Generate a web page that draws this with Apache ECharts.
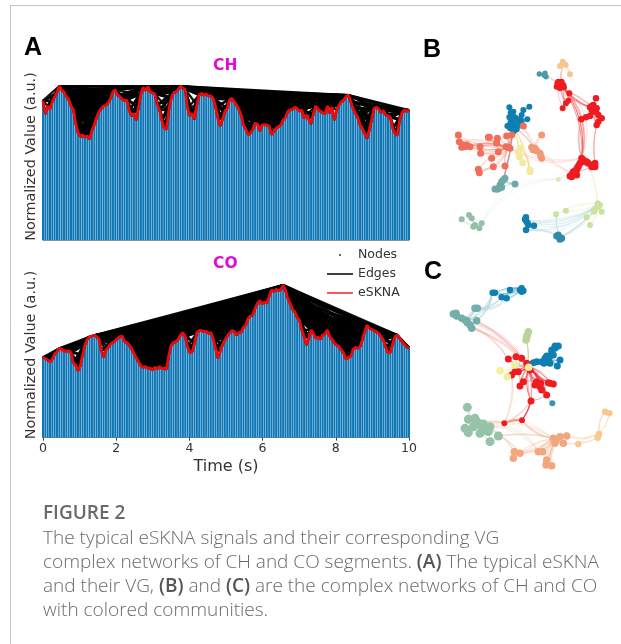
<!DOCTYPE html>
<html><head><meta charset="utf-8">
<style>html,body{margin:0;padding:0;background:#fff}#c{width:621px;height:644px;filter:blur(0.45px)}</style>
<script src="https://cdn.jsdelivr.net/npm/echarts@6/dist/echarts.min.js"></script>
</head><body><div id="c"></div>
<script>
// Signal samples (a.u., height)
const chValues=[418,378,402,392,415,430,442,462,450,444,430,422,402,392,350,322,310,315,308,312,302,328,345,368,385,394,402,404,412,425,445,450,435,430,422,418,420,388,372,380,360,398,438,458,448,460,444,442,438,405,390,358,335,332,390,425,442,444,452,462,455,452,395,372,380,362,405,435,440,434,438,432,432,425,400,365,342,362,385,395,420,425,415,405,392,375,345,332,316,320,332,350,348,327,345,346,345,342,316,325,335,340,345,360,368,385,390,392,398,395,386,390,365,375,362,348,378,402,392,386,382,378,402,380,398,360,390,405,415,420,430,435,415,395,380,368,345,335,318,305,330,362,395,398,394,382,388,375,372,368,335,320,314,360,382,390,385,390];
const coValues=[241,238,233,227,235,251,258,268,265,261,259,261,255,225,218,201,215,248,278,295,303,305,307,303,297,263,241,263,271,281,285,291,298,303,305,288,285,278,268,253,241,228,215,211,213,208,209,203,211,207,213,207,209,205,248,278,285,288,295,308,315,303,273,255,258,283,315,321,321,318,319,313,315,298,268,238,258,278,293,303,313,321,319,308,315,315,331,338,358,365,368,388,403,411,401,407,403,423,443,438,445,441,443,458,443,418,403,385,378,361,353,323,303,278,298,323,313,298,301,295,308,311,323,303,295,283,278,273,263,253,235,241,243,265,271,268,273,293,318,338,328,325,321,318,313,303,293,271,255,255,281,303,308,298,288,281,271,271];
const chMax=465, coMax=460;
const durationSeconds=10;
const legendNames=['Nodes','Edges','eSKNA'];
const yLabel='Normalized Value (a.u.)';
const xLabel='Time (s)';
const panelLetters=['A','B','C'];
const segmentTitles=['CH','CO'];
const captionHead='FIGURE 2';
const captionLines=['The typical eSKNA signals and their corresponding VG','complex networks of CH and CO segments. {b|(A)} The typical eSKNA','and their VG, {b|(B)} and {b|(C)} are the complex networks of CH and CO','with colored communities.'];

// Network B: communities (first node = hub), layout units
const bBlue=[[280,290],[268,232],[280,245],[268,262],[272,275],[262,288],[283,285],[290,298],[280,305],[295,268],[305,255],[328,230],[310,240],[322,268],[305,272],[290,280],[275,255],[285,262],[270,295],[278,275],[290,290],[285,300],[275,268],[268,285],[295,285],[272,248],[278,260],[282,295],[274,282]];
const bTomato=[[265,352],[115,315],[118,335],[128,345],[125,352],[140,345],[150,350],[182,370],[180,350],[208,322],[232,325],[230,340],[260,318],[275,315],[258,350],[215,385],[235,365],[220,410],[175,418],[178,428],[255,408],[310,288],[135,350],[205,322],[270,355]];
const bOrange=[[345,355],[365,315],[340,360],[360,370],[365,385],[350,362],[335,352],[362,378]];
const bYellow=[[300,355],[298,380],[308,398],[330,425],[295,365],[330,420]];
const bTeal=[[250,450],[255,445],[245,455],[240,465],[232,478],[245,472],[285,462],[238,475],[225,477]];
const bRed1=[[422,162],[415,155],[430,165],[420,175],[448,190],[445,212],[438,220],[428,235],[412,160],[425,155],[432,172],[418,168],[410,170]];
const bRed2=[[522,235],[528,205],[515,228],[525,245],[535,255],[510,258],[498,262],[484,268],[545,265],[535,275],[530,285],[515,240],[530,235],[520,225],[528,245],[510,232]];
const bRed3=[[485,385],[500,395],[475,410],[520,405],[525,400],[458,430],[450,438],[465,425],[470,435],[490,390],[505,400],[515,410],[460,425],[455,440],[470,420],[480,400],[525,410],[495,395]];
const bPeach=[[430,100],[420,108],[437,105],[450,133],[428,95]];
const bTeal2=[[375,130],[358,132],[378,140],[373,136]];
const bLime=[[533,520],[525,540],[545,545],[510,585],[500,562],[438,542],[408,553],[535,530],[540,525],[522,545]];
const bPale=[[415,448]];
const bSage=[[165,585],[125,568],[147,555],[155,565],[185,580],[178,595],[160,590]];
const bBlue2=[[318,572],[318,562],[325,585],[318,600],[342,587],[322,578],[315,568]];
const bTeal3=[[418,622],[425,625],[410,618],[420,628],[415,615]];

// Network C
const cBlue1=[[305,115],[310,122],[300,120],[218,128],[245,142],[260,145],[270,120],[305,125],[225,128]];
const cTeal=[[140,212],[100,192],[110,198],[135,210],[142,218],[170,212],[165,175],[155,235],[125,205],[150,225],[108,190],[172,175]];
const cSage1=[[320,262],[325,245],[318,270],[322,255]];
const cBlue2=[[385,330],[415,288],[405,295],[395,310],[375,325],[350,335],[420,330],[412,348],[390,340],[380,318],[365,335],[400,315],[388,322],[378,332],[395,300],[372,340],[405,288],[340,338]];
const cRed=[[325,350],[265,327],[288,320],[305,325],[275,375],[295,365],[300,408],[310,395],[350,395],[360,410],[365,420],[390,400],[400,402],[380,435],[333,453],[330,360],[320,340],[355,405],[345,405],[362,400],[385,398],[285,365]];
const cRed2=[[253,520],[306,511]];
const cYellow=[[285,345],[240,362],[262,380],[326,352]];
const cTealDot=[[397,460]];
const cSage2=[[175,520],[142,472],[145,508],[135,535],[165,505],[185,530],[210,530],[205,545],[180,550],[235,558],[210,575],[145,548],[195,540],[170,515],[190,522],[160,530]];
const cOrange=[[400,565],[420,560],[440,558],[405,580],[430,580],[283,605],[280,625],[300,610],[355,605],[368,605],[380,630],[378,645],[395,647],[408,572]];
const cPeach=[[537,552],[555,485],[568,490],[533,563],[475,582]];

const netB=[[bBlue,'#0f7fb2',6,.4],[bTomato,'#ef6f5a',7,.35],[bOrange,'#f29a74',7,.4],[bYellow,'#f3e9a0',7,.7],[bTeal,'#6fa9a6',7,.6],[bRed1,'#ee1c20',6,.4],[bRed2,'#ee1c20',6.5,.4],[bRed3,'#ee1c20',7,.6],[bPeach,'#f6c68f',6,.5],[bTeal2,'#4c99a8',5.5,.5],[bLime,'#cfe09c',6,.3],[bPale,'#dfe8b5',5,.2],[bSage,'#93bfa6',6,.35],[bBlue2,'#0f7fb2',6.5,.35],[bTeal3,'#2f8aa5',7,.35]];
const bridgesB=[[5,0,7,0,'#ee1c20',.7,.22],[5,0,7,0,'#f6908a',.5,.3],[5,0,6,0,'#ee1c20',.6,-.2],[5,3,6,0,'#f48a86',.5,.1],[6,7,7,0,'#f48a86',.5,-.15],[6,10,7,4,'#f48a86',.5,-.1],[5,0,8,0,'#f6a080',.5,.1],[5,0,9,0,'#f0b0a8',.5,.1],[1,0,7,0,'#f6b0a0',.4,-.2],[1,21,7,5,'#f6b0a0',.4,-.2],[0,0,1,0,'#ef9a8a',.5,.1],[0,0,2,0,'#f0a080',.5,.1],[0,0,3,1,'#f4dc90',.7,.1],[0,0,3,3,'#f4dc90',.7,.1],[0,0,4,0,'#b48a80',.8,.05],[10,0,14,0,'#b5d8dd',.5,.2],[10,0,13,0,'#b5d8dd',.5,.3],[10,7,13,0,'#b5d8dd',.4,.15],[10,1,14,0,'#b5d8dd',.4,.1],[10,0,13,3,'#b5d8dd',.4,.25],[13,3,14,0,'#b5d8dd',.5,.2],[10,6,14,0,'#b5d8dd',.4,-.1],[11,0,12,4,'#e8f0e4',.6,-.3],[11,0,7,5,'#e8ead0',.5,.1],[10,0,7,1,'#f2ead0',.5,-.1]];
const netC=[[cBlue1,'#0f7fb2',6.5,.4],[cTeal,'#74aeaa',7.5,.5],[cSage1,'#b8d49a',7.5,.6],[cBlue2,'#0f7fb2',7,.45],[cRed,'#ee1c20',7,.6],[cRed2,'#ee1c20',6,.5],[cYellow,'#f4ef9c',7.5,.7],[cTealDot,'#3a94a8',6,.4],[cSage2,'#96c2a8',9,.4],[cOrange,'#f2a67e',7.5,.4],[cPeach,'#f6c98f',6.5,.4]];
const bridgesC=[[0,3,1,0,'#a8d0d8',.6,.25],[0,3,1,5,'#a8d0d8',.6,.2],[0,4,1,6,'#a8d0d8',.6,.25],[0,5,1,6,'#a8d0d8',.5,.3],[0,1,0,3,'#a8d0d8',.5,.15],[1,5,4,0,'#f0a8a0',.6,.12],[1,7,4,0,'#f0a8a0',.6,.15],[1,0,4,0,'#f0a8a0',.5,.2],[1,9,4,1,'#f0a8a0',.5,.15],[2,0,4,0,'#c8c890',.6,.05],[3,5,4,0,'#3a8ab0',.7,0],[4,0,7,0,'#b8d0d8',.5,-.1],[4,14,5,0,'#f6b0a8',.5,.15],[4,14,5,1,'#ee1c20',.7,.1],[4,4,5,0,'#f6c0b8',.5,.15],[4,0,4,14,'#f08080',.5,.1],[5,0,8,0,'#f0c0a8',.6,-.15],[5,1,9,0,'#f0b090',.6,-.2],[5,0,5,1,'#f08070',.6,.1],[8,9,9,0,'#e8c8a8',.5,.1],[8,5,9,0,'#e8c8a8',.45,.25],[8,9,9,7,'#e8c8a8',.45,.15],[8,6,9,8,'#e8c8a8',.45,.3],[8,0,9,5,'#e8c8a8',.45,.2],[9,0,9,8,'#f2b08c',.5,.2],[9,0,9,10,'#f2b08c',.5,.15],[9,2,10,0,'#f8dcc0',.6,-.2],[9,4,10,3,'#f8dcc0',.5,-.15],[10,0,10,1,'#f8dcc0',.5,.2]];

// Natural visibility graph computed from a signal
function visibilityEdges(v,ts){
  const out=[];
  for(let a=0;a<v.length-1;a++){
    let best=-Infinity;
    for(let b=a+1;b<v.length;b++){
      const slope=(v[b]-v[a])/(b-a);
      if(slope>best){best=slope;out.push({coords:[[ts[a],v[a]],[ts[b],v[b]]]});}
    }
  }
  return out;
}
function buildGraph(net,bridges){
  const data=[],links=[],offset=[];
  net.forEach(([pts,color,size,op],ci)=>{
    offset[ci]=data.length;
    pts.forEach((p,i)=>{
      data.push({value:p,symbolSize:size,itemStyle:{color}});
      if(i>0){
        links.push({source:offset[ci],target:offset[ci]+i,lineStyle:{color,opacity:op,width:1,curveness:i%2?.18:-.18}});
        links.push({source:offset[ci],target:offset[ci]+i,lineStyle:{color,opacity:op*.7,width:.8,curveness:i%2?.28:-.1}});
      }
      if(i>1&&i%2==0)links.push({source:offset[ci]+i-1,target:offset[ci]+i,lineStyle:{color,opacity:op*.8,width:.8,curveness:.12}});
    });
  });
  bridges.forEach(([ca,ia,cb,ib,color,op,curve])=>{
    [1,.8,1.25].forEach((f,j)=>links.push({source:offset[ca]+ia,target:offset[cb]+ib,lineStyle:{color,opacity:op*(j?.7:1),width:1,curveness:curve*f}}));
  });
  return {data,links};
}
const signals=[chValues,coValues];
const maxes=[chMax,coMax];
const series=[],grids=[],xAxes=[],yAxes=[];
const sansFont='"DejaVu Sans"';
[[85,155],[284.3,153.4]].forEach(([top,h],k)=>{
  const v=signals[k];
  const ts=v.map((_,i)=>i*durationSeconds/(v.length-1));
  const pts=v.map((y,i)=>[ts[i],y]);
  grids.push({left:43,top,width:366,height:h});
  xAxes.push({gridIndex:k,type:'value',min:0,max:durationSeconds,interval:2,splitLine:{show:false},
    axisLine:{show:true,onZero:false,lineStyle:{color:'#8a9296',width:1}},axisTick:{show:k==1,length:3,lineStyle:{color:'#444'}},
    axisLabel:{show:k==1,color:'#333',fontSize:12.5,fontFamily:sansFont,margin:5},
    name:k==1?xLabel:'',nameLocation:'middle',nameGap:21,nameTextStyle:{color:'#333',fontSize:16,fontFamily:sansFont}});
  yAxes.push({gridIndex:k,type:'value',min:0,max:maxes[k],axisLine:{show:false},axisTick:{show:false},axisLabel:{show:false},splitLine:{show:false}});
  series.push({type:'bar',xAxisIndex:k,yAxisIndex:k,data:pts,barWidth:2,itemStyle:{color:'#0e76b5'},silent:true,z:1});
  series.push({name:'Edges',type:'lines',coordinateSystem:'cartesian2d',xAxisIndex:k,yAxisIndex:k,data:visibilityEdges(v,ts),lineStyle:{color:'#000',width:2.2,opacity:.95},silent:true,z:2});
  series.push({name:'Nodes',type:'scatter',xAxisIndex:k,yAxisIndex:k,data:pts,symbolSize:1.5,itemStyle:{color:'#000'},silent:true,z:3});
  series.push({name:'eSKNA',type:'line',xAxisIndex:k,yAxisIndex:k,data:pts,symbol:'none',lineStyle:{color:'#ee0a0a',width:2.8},silent:true,z:4});
});
[[30,220,660,netB,bridgesB],[250,230,690,netC,bridgesC]].forEach(([top,h,ymax,net,br],n)=>{
  const gi=n+2;
  grids.push({left:420,top,width:200,height:h});
  xAxes.push({gridIndex:gi,type:'value',min:0,max:600,show:false});
  yAxes.push({gridIndex:gi,type:'value',min:0,max:ymax,inverse:true,show:false});
  const g=buildGraph(net,br);
  series.push({type:'graph',coordinateSystem:'cartesian2d',xAxisIndex:gi,yAxisIndex:gi,layout:'none',data:g.data,links:g.links,silent:true,z:2});
});
const iconLine='path://M0,0L0,0ZM0,6.2H26V7.8H0ZM26,14L26,14Z';
const iconDot='path://M0,0L0,0ZM12,7a1,1 0 1,0 2,0a1,1 0 1,0 -2,0ZM26,14L26,14Z';
const frame=[
 {type:'line',shape:{x1:10.5,y1:5,x2:10.5,y2:644},style:{stroke:'#c4c4c4',lineWidth:1}},
 {type:'line',shape:{x1:10,y1:5.5,x2:621,y2:5.5},style:{stroke:'#c4c4c4',lineWidth:1}}
];
const labelBold='bold 25px "Liberation Sans"';
const rotated=(y)=>({type:'text',x:31,y,rotation:Math.PI/2,style:{text:yLabel,font:'14.4px "DejaVu Sans"',fill:'#333',textAlign:'center',textVerticalAlign:'middle'}});
const gfx=frame.concat([
 {type:'text',left:24,top:36,style:{text:panelLetters[0],font:labelBold,fill:'#000'}},
 {type:'text',left:423,top:38,style:{text:panelLetters[1],font:labelBold,fill:'#000'}},
 {type:'text',left:424,top:260,style:{text:panelLetters[2],font:labelBold,fill:'#000'}},
 {type:'text',left:213,top:58,style:{text:segmentTitles[0],font:'bold 15.5px "DejaVu Sans"',fill:'#e00fd0'}},
 {type:'text',left:213,top:256,style:{text:segmentTitles[1],font:'bold 15.5px "DejaVu Sans"',fill:'#e00fd0'}},
 rotated(156.5),rotated(355),
 {type:'text',left:43,top:504,style:{text:captionHead,font:'600 19px "Open Sans"',fill:'#6a6a6a'}}
]);
captionLines.forEach((t,i)=>gfx.push({type:'text',left:43,top:529+i*24,style:{text:t,font:'300 19px "Open Sans"',fill:'#6a6a6a',rich:{b:{font:'600 19px "Open Sans"',fill:'#555'}}}}));
const chart=echarts.init(document.getElementById('c'),null,{renderer:'canvas'});
const noStroke={itemStyle:{borderWidth:0},lineStyle:{width:0}};
chart.setOption({animation:false,backgroundColor:'#fff',grid:grids,xAxis:xAxes,yAxis:yAxes,series,
 legend:{orient:'vertical',left:322,top:243,itemWidth:26,itemHeight:14,itemGap:5,selectedMode:false,
   itemStyle:{borderWidth:0},lineStyle:{width:0},
   textStyle:{color:'#333',fontSize:12.5,fontFamily:sansFont},
   data:[{name:legendNames[0],icon:iconDot,itemStyle:{color:'#000',borderWidth:0},lineStyle:{width:0}},{name:legendNames[1],icon:iconLine,itemStyle:{color:'#000',borderWidth:0},lineStyle:{width:0}},{name:legendNames[2],icon:iconLine,itemStyle:{color:'#f02020',borderWidth:0},lineStyle:{width:0}}]},
 graphic:gfx});
</script></body></html>
